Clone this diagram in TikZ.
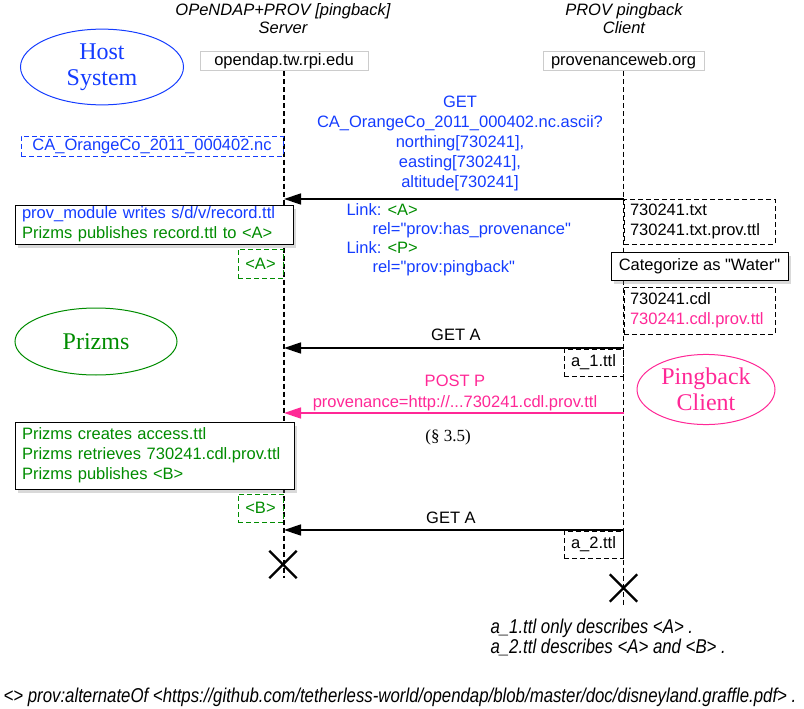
\documentclass[tikz,border=0pt]{standalone}
\usepackage{fontspec}
\setmainfont{Liberation Sans}[Ligatures=TeXOff]
\newfontfamily\serifface{Liberation Serif}
\newfontfamily\narrowface[FakeStretch=0.84]{Liberation Sans}
\usetikzlibrary{positioning, arrows.meta, shadows, shapes.geometric, shapes.misc}
\definecolor{hostblue}{RGB}{20,60,255}
\definecolor{prizgreen}{RGB}{0,140,0}
\definecolor{pingpink}{RGB}{255,40,150}

\begin{document}
\begin{tikzpicture}[x=1pt, y=1pt,
  font=\fontsize{16.5}{20}\selectfont,
  role/.style={align=center, font=\fontsize{16.5}{18}\selectfont\itshape},
  host/.style={draw=gray!40, line width=1pt, minimum height=19pt, inner sep=0pt},
  lifeline/.style={line width=1.2pt, dash pattern=on 5pt off 3pt},
  actor/.style={ellipse, line width=1pt, minimum width=#1, minimum height=67pt, align=center,
    font=\serifface\fontsize{24}{26}\selectfont},
  msg/.style={line width=1.4pt, -{Triangle[length=17pt, width=11pt]}},
  file/.style={draw, line width=1pt, dash pattern=on 5pt off 3pt, inner sep=0pt},
  note/.style={draw, fill=white, line width=1pt, align=left, inner xsep=7pt, inner ysep=0pt,
    drop shadow={shadow xshift=3pt, shadow yshift=-4pt, opacity=0.3}},
  xmark/.style={cross out, draw, line width=2.4pt, minimum size=25pt, inner sep=0pt}
]
\useasboundingbox (0,0) rectangle (804,-709);

% the two parties
\node[role] (srvrole) at (283,-19) {OPeNDAP+PROV [pingback]\\Server};
\node[role] (clirole) at (624,-19) {PROV pingback\\Client};
\node[host, minimum width=168pt] (srv) at (284,-61.5) {opendap.tw.rpi.edu};
\node[host, minimum width=161pt] (cli) at (623.5,-61.5) {provenanceweb.org};
\coordinate (srvend) at (284,-578);
\coordinate (cliend) at (623.5,-607);
\draw[lifeline] (srv.south) -- (srvend);
\draw[lifeline] (cli.south) -- (cliend);

% systems
\node[actor=163pt, draw=hostblue, text=hostblue] (hostsys) at (102,-67) {Host\\System};
\node[actor=162pt, draw=prizgreen, text=prizgreen] (prizms) at (96,-341.5) {Prizms};
\node[actor=138pt, draw=pingpink, text=pingpink] (pingcli) at (706,-389.5) {Pingback\\Client};

\node[file, draw=hostblue, text=hostblue, minimum width=262pt, minimum height=20pt] (ncfile)
  at (152,-146) {CA\_OrangeCo\_2011\_000402.nc};

% first request
\node[align=center, text=hostblue] (getlbl) at (460,-143)
  {GET\\CA\_OrangeCo\_2011\_000402.nc.ascii?\\northing[730241],\\easting[730241],\\altitude[730241]};
\coordinate (get1c) at (623.5,-199);
\coordinate (get1s) at (284,-199);
\draw[msg] (get1c) -- (get1s);

\node[note, text width=264pt, minimum height=39pt] (note1) at (154,-224.5)
  {\textcolor{hostblue}{prov\_module writes s/d/v/record.ttl}\\
   \textcolor{prizgreen}{Prizms publishes record.ttl to <A>}};
\node[file, draw=prizgreen, text=prizgreen, minimum width=45pt, minimum height=29pt] (filea)
  at (260.5,-263.5) {<A>};

\node[anchor=west, align=left, text=hostblue, font=\fontsize{16.5}{19}\selectfont] (links) at (343,-240)
  {Link: \textcolor{prizgreen}{<A>}\\
   \hspace*{26pt}rel="prov:has\_provenance"\\
   Link: \textcolor{prizgreen}{<P>}\\
   \hspace*{26pt}rel="prov:pingback"};

% client side
\node[file, minimum width=151pt, minimum height=45pt, align=left, text width=139pt] (txtfiles)
  at (699.5,-221.5) {730241.txt\\730241.txt.prov.ttl};
\node[note, align=center, minimum width=177pt, minimum height=28pt] (categ) at (699.5,-266)
  {Categorize as "Water"};
\node[file, minimum width=151pt, minimum height=47pt, align=left, text width=139pt] (cdlfiles)
  at (699.5,-310.5) {730241.cdl\\\textcolor{pingpink}{730241.cdl.prov.ttl}};

% second request
\node (geta1) at (456,-335) {GET A};
\coordinate (get2c) at (623.5,-348);
\coordinate (get2s) at (284,-348);
\draw[msg] (get2c) -- (get2s);
\node[file, minimum width=59pt, minimum height=27pt] (a1ttl) at (593.5,-362.5) {a\_1.ttl};

% pingback
\node[align=center, text=pingpink, font=\fontsize{16.5}{21}\selectfont] (postlbl) at (455,-392.5)
  {POST P\\provenance=http://...730241.cdl.prov.ttl};
\coordinate (postc) at (623.5,-413);
\coordinate (posts) at (284,-413);
\draw[msg, draw=pingpink, fill=pingpink] (postc) -- (posts);
\node[font=\serifface\fontsize{17}{20}\selectfont] (sect) at (448,-437) {(§ 3.5)};

\node[note, text width=265pt, minimum height=67pt, text=prizgreen] (note2) at (154.5,-455.5)
  {Prizms creates access.ttl\\Prizms retrieves 730241.cdl.prov.ttl\\Prizms publishes <B>};
\node[file, draw=prizgreen, text=prizgreen, minimum width=45pt, minimum height=28pt] (fileb)
  at (260.5,-508) {<B>};

% third request
\node (geta2) at (451,-518) {GET A};
\coordinate (get3c) at (623.5,-530);
\coordinate (get3s) at (284,-530);
\draw[msg] (get3c) -- (get3s);
\node[file, minimum width=59pt, minimum height=27pt] (a2ttl) at (593.5,-544.5) {a\_2.ttl};

% ends
\node[xmark] (srvx) at (283,-564.5) {};
\node[xmark] (clix) at (623.5,-588) {};

% remarks
\node[anchor=west, align=left, font=\narrowface\itshape\fontsize{20}{20}\selectfont] (remark)
  at (487,-637) {a\_1.ttl only describes <A> .\\a\_2.ttl describes <A> and <B> .};
\node[font=\narrowface\itshape\fontsize{20}{20}\selectfont] (alt) at (400,-697)
  {<> prov:alternateOf <https://github.com/tetherless-world/opendap/blob/master/doc/disneyland.graffle.pdf> .};

\end{tikzpicture}
\end{document}
